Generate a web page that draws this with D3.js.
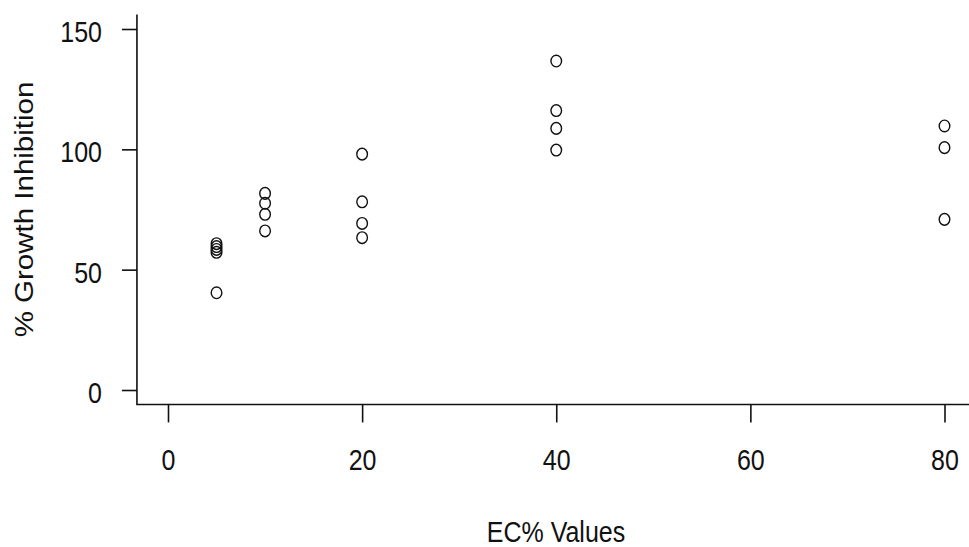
<!DOCTYPE html>
<html>
<head>
<meta charset="utf-8">
<script src="https://cdn.jsdelivr.net/npm/d3@7"></script>
<style>
  html, body { margin: 0; padding: 0; background: #ffffff; }
  svg { display: block; }
  text { font-family: "Liberation Sans", Arial, sans-serif; fill: #111; }
</style>
</head>
<body>
<svg id="chart" width="969" height="547"></svg>
<script>
// ---- data ----
const ecConcentration = [5, 5, 5, 5, 5, 10, 10, 10, 10, 20, 20, 20, 20, 40, 40, 40, 40, 80, 80, 80];
const growthInhibition = [40.4, 57.2, 58.4, 59.6, 60.8, 81.7, 77.6, 73.0, 66.1, 98.0, 78.2, 69.2, 63.3, 136.7, 116.1, 108.7, 99.7, 109.7, 100.7, 70.9];
const xTicks = [0, 20, 40, 60, 80];
const yTicks = [0, 50, 100, 150];
const xTitle = "EC% Values";
const yTitle = "% Growth Inhibition";

// ---- layout ----
const W = 969, H = 547;
const stretch = 1.18;      // vertical stretch of the reference image
const fontSize = 25;
const svg = d3.select("#chart");

const x = d3.scaleLinear().domain([0, 80]).range([168, 944.5]);
const y = d3.scaleLinear().domain([0, 150]).range([390, 29]);

const xLeft = x(-3.2), yBottom = y(-6), yTop = y(156);

// L-shaped box
svg.append("path")
  .attr("d", `M${xLeft},${yTop} V${yBottom} H${W + 10}`)
  .attr("fill", "none").attr("stroke", "#111").attr("stroke-width", 1.6);

// x axis
const gx = svg.append("g").attr("transform", `translate(0,${yBottom})`)
  .call(d3.axisBottom(x).tickValues(xTicks).tickFormat(d3.format("d")).tickSize(18).tickSizeOuter(0));
gx.select(".domain").remove();
gx.selectAll(".tick line").attr("stroke", "#111").attr("stroke-width", 1.6);
gx.selectAll(".tick text")
  .attr("y", 66 / stretch).attr("dy", 0)
  .attr("transform", `scale(1,${stretch})`)
  .style("font-size", fontSize + "px")
  .style("font-family", '"Liberation Sans", Arial, sans-serif')
  .attr("fill", "#111");

// y axis
const gy = svg.append("g").attr("transform", `translate(${xLeft},0)`)
  .call(d3.axisLeft(y).tickValues(yTicks).tickFormat(d3.format("d")).tickSize(15).tickSizeOuter(0));
gy.select(".domain").remove();
gy.selectAll(".tick line").attr("stroke", "#111").attr("stroke-width", 1.6);
gy.selectAll(".tick text")
  .attr("x", -35).attr("dy", (10.6) + "px")
  .attr("transform", `scale(1,${stretch})`)
  .style("font-size", fontSize + "px")
  .style("font-family", '"Liberation Sans", Arial, sans-serif')
  .attr("fill", "#111");

// axis titles
svg.append("text")
  .attr("text-anchor", "middle")
  .attr("transform", `translate(${(xLeft + 975) / 2},542) scale(1,${stretch})`)
  .style("font-size", fontSize + "px")
  .text(xTitle);

svg.append("text")
  .attr("text-anchor", "middle")
  .attr("transform", `translate(33,${(yTop + yBottom) / 2}) scale(1,${stretch}) rotate(-90)`)
  .style("font-size", fontSize + "px")
  .text(yTitle);

// points (open circles)
svg.append("g").selectAll("ellipse")
  .data(ecConcentration.map((c, i) => ({ c, v: growthInhibition[i] })))
  .join("ellipse")
  .attr("cx", d => x(d.c))
  .attr("cy", d => y(d.v))
  .attr("rx", 5.3)
  .attr("ry", 5.3 * 1.1)
  .attr("fill", "none")
  .attr("stroke", "#111")
  .attr("stroke-width", 1.4);
</script>
</body>
</html>
